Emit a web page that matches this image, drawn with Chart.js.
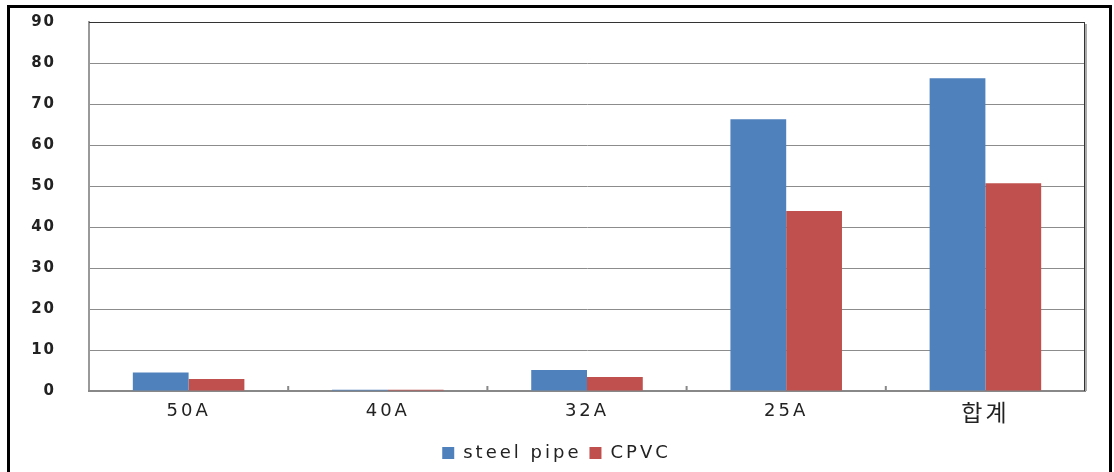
<!DOCTYPE html>
<html>
<head>
<meta charset="utf-8">
<script src="https://cdn.jsdelivr.net/npm/chart.js@4/dist/chart.umd.min.js"></script>
<style>
  html, body { margin: 0; padding: 0; background: #fff; }
  #wrap { width: 1114px; height: 472px; position: relative; }
</style>
</head>
<body>
<div id="wrap"><canvas id="grafico"></canvas></div>
<script>
const categorias = ["50A", "40A", "32A", "25A", "합계"];
const steelPipe = [4.5, 0.3, 5.1, 66.3, 76.3];
const cpvc = [2.9, 0.3, 3.4, 43.9, 50.7];
const yTicks = [0, 10, 20, 30, 40, 50, 60, 70, 80, 90];

const fonte = "'DejaVu Sans', 'Noto Sans CJK KR', sans-serif";

// desloca e espaça o texto de um elemento na hora de desenhar
function embrulhar(obj, metodo, sp, dx, dy) {
  if (!obj || obj["_esp_" + metodo]) return;
  const orig = obj[metodo].bind(obj);
  obj[metodo] = (...args) => {
    const c = obj.ctx;
    c.save();
    c.letterSpacing = sp;
    c.translate(dx, dy);
    orig(...args);
    c.restore();
  };
  obj["_esp_" + metodo] = true;
}

const espacamento = {
  id: "espacamento",
  beforeLayout(chart) { chart.ctx.letterSpacing = "3px"; },
  afterLayout(chart) {
    embrulhar(chart.scales.x, "drawLabels", "3px", 0, 0);
    embrulhar(chart.scales.y, "drawLabels", "2px", -30, 0);
    embrulhar(chart.legend, "draw", "3px", 14, 0);
  },
  beforeDraw(chart) { chart.ctx.letterSpacing = "3px"; }
};

// moldura preta e bordas da área do gráfico
const moldura = {
  id: "moldura",
  afterDraw(chart) {
    const ctx = chart.ctx;
    const a = chart.chartArea;
    ctx.save();
    ctx.strokeStyle = "#000";
    ctx.lineWidth = 3;
    ctx.beginPath();
    ctx.moveTo(8.5, 480);
    ctx.lineTo(8.5, 6.5);
    ctx.lineTo(1110.5, 6.5);
    ctx.lineTo(1110.5, 480);
    ctx.stroke();

    ctx.lineWidth = 1;
    ctx.strokeStyle = "#333";
    ctx.beginPath();
    ctx.moveTo(a.left, a.top + 0.5);
    ctx.lineTo(a.right, a.top + 0.5);
    ctx.moveTo(a.right - 0.5, a.top);
    ctx.lineTo(a.right - 0.5, a.bottom);
    ctx.stroke();
    ctx.strokeStyle = "#aaa";
    ctx.lineWidth = 2;
    ctx.beginPath();
    ctx.moveTo(a.right + 1, a.top + 2);
    ctx.lineTo(a.right + 1, a.bottom);
    ctx.stroke();

    // marcas do eixo x entre categorias
    const x = chart.scales.x;
    ctx.strokeStyle = "#888";
    ctx.lineWidth = 2;
    ctx.beginPath();
    for (let i = 1; i < categorias.length; i++) {
      const px = (x.getPixelForTick(i - 1) + x.getPixelForTick(i)) / 2;
      ctx.moveTo(px, a.bottom);
      ctx.lineTo(px, a.bottom - 5);
    }
    ctx.stroke();
    ctx.restore();
  }
};

const ctx = document.getElementById("grafico").getContext("2d");
new Chart(ctx, {
  type: "bar",
  data: {
    labels: categorias,
    datasets: [
      { label: "steel pipe", data: steelPipe, backgroundColor: "#4F81BD" },
      { label: "CPVC", data: cpvc, backgroundColor: "#C0504D" }
    ]
  },
  options: {
    responsive: true,
    maintainAspectRatio: false,
    animation: false,
    categoryPercentage: 0.56,
    barPercentage: 1,
    layout: { padding: { top: 22, right: 29, left: 0, bottom: 0 } },
    scales: {
      y: {
        min: 0,
        max: 90,
        afterBuildTicks(axis) { axis.ticks = yTicks.map(v => ({ value: v })); },
        afterFit(axis) { axis.width = 89; },
        grid: { color: "#8c8c8c", drawTicks: false },
        border: { color: "#999", width: 2 },
        ticks: { padding: 3, color: "#222", font: { family: fonte, size: 15, weight: "bold" } }
      },
      x: {
        afterFit(axis) { axis.height = 45; },
        grid: { display: false, drawTicks: false },
        border: { color: "#888", width: 2 },
        ticks: {
          padding: 10,
          autoSkip: false,
          maxRotation: 0,
          color: "#222",
          font: (c) => ({ family: fonte, size: c.tick && c.tick.label === "합계" ? 23 : 18 })
        }
      }
    },
    plugins: {
      legend: {
        position: "bottom",
        labels: {
          boxWidth: 12,
          boxHeight: 12,
          padding: 8,
          color: "#222",
          font: { family: fonte, size: 18 }
        }
      },
      tooltip: { enabled: false }
    }
  },
  plugins: [espacamento, moldura]
});
</script>
</body>
</html>
